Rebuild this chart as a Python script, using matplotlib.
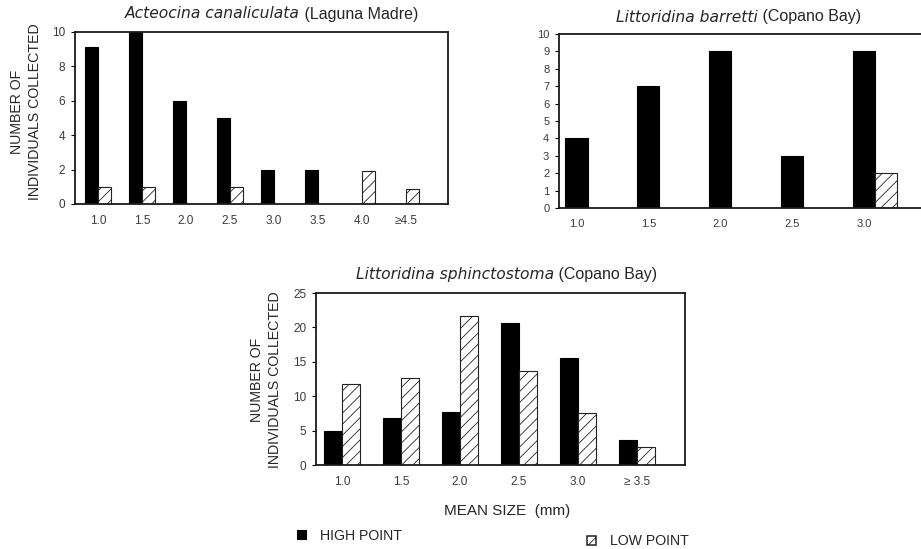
import numpy as np
import matplotlib
matplotlib.use("Agg")
import matplotlib.pyplot as plt
from matplotlib.patches import Rectangle

plt.rcParams['font.family'] = ['Liberation Sans', 'DejaVu Sans']
plt.rcParams['hatch.linewidth'] = 0.6

# ---- data ----
acteocina_sizes = ["1.0", "1.5", "2.0", "2.5", "3.0", "3.5", "4.0", "\u22654.5"]
acteocina_high = [9.1, 10, 6, 5, 2, 2, 0, 0]
acteocina_low = [1, 1, 0, 1, 0, 0, 1.9, 0.9]

barretti_sizes = ["1.0", "1.5", "2.0", "2.5", "3.0"]
barretti_high = [4, 7, 9, 3, 9]
barretti_low = [0, 0, 0, 0, 2]

sphinct_sizes = ["1.0", "1.5", "2.0", "2.5", "3.0", "\u2265 3.5"]
sphinct_high = [4.9, 6.8, 7.7, 20.6, 15.6, 3.6]
sphinct_low = [11.8, 12.7, 21.7, 13.7, 7.6, 2.6]

W, H = 921, 549
DPI = 100
TXT = "#262626"
fig = plt.figure(figsize=(W / DPI, H / DPI), dpi=DPI)


def px_axes(left, right, top, bottom):
    return fig.add_axes([left / W, 1 - bottom / H, (right - left) / W, (bottom - top) / H])


def draw_bars(ax, labels, high, low, width, xlim, ylim, yticks, tick_shift=0.0, tick_fs=8.5):
    x = np.arange(len(labels))
    ax.bar(x - width / 2, high, width, color="black", edgecolor="black", linewidth=0.8)
    lows = np.array(low, dtype=float)
    mask = lows > 0
    ax.bar(x[mask] + width / 2, lows[mask], width, color="white", edgecolor="#222222",
           linewidth=0.8, hatch="///")
    ax.set_xlim(*xlim)
    ax.set_ylim(*ylim)
    ax.set_xticks(x + tick_shift)
    ax.set_xticklabels(labels, fontsize=tick_fs, color="#3a3a3a")
    ax.set_yticks(yticks)
    ax.set_yticklabels([str(v) for v in yticks], fontsize=tick_fs, color="#3a3a3a")
    ax.tick_params(axis="x", length=0, pad=8)
    ax.tick_params(axis="y", direction="out", length=3, width=0.8, pad=4)
    for s in ax.spines.values():
        s.set_linewidth(1.3)
        s.set_color("#1a1a1a")


def split_title(x_split, y, italic, plain, fs=11.5):
    # species name in a wide oblique face, locality in upright text
    fig.text(x_split / W, 1 - y / H, italic, style="italic", family="DejaVu Sans",
             ha="right", va="center", fontsize=fs - 0.3, color=TXT)
    fig.text(x_split / W, 1 - y / H, " " + plain, ha="left", va="center",
             fontsize=fs, color=TXT)


def ylabel(x, y, fs=10.2):
    fig.text(x / W, 1 - y / H, "NUMBER OF\nINDIVIDUALS COLLECTED", rotation=90,
             ha="center", va="center", multialignment="center", fontsize=fs,
             color=TXT, linespacing=1.4)


# Acteocina canaliculata
ax1 = px_axes(75, 448, 32, 204)
draw_bars(ax1, acteocina_sizes, acteocina_high, acteocina_low, 0.3,
          (-0.52, 7.95), (0, 10), [0, 2, 4, 6, 8, 10])
split_title(300, 14, "Acteocina canaliculata", "(Laguna Madre)")
ylabel(26, 112)

# Littoridina barretti
ax2 = px_axes(559, 925, 34, 208)
draw_bars(ax2, barretti_sizes, barretti_high, barretti_low, 0.31,
          (-0.40, 4.70), (0, 10), list(range(11)), tick_shift=-0.15, tick_fs=8)
ax2.spines["right"].set_visible(False)
split_title(758, 17, "Littoridina barretti", "(Copano Bay)")

# Littoridina sphinctostoma
ax3 = px_axes(316, 685, 293, 465)
draw_bars(ax3, sphinct_sizes, sphinct_high, sphinct_low, 0.3,
          (-0.44, 5.81), (0, 25), [0, 5, 10, 15, 20, 25])
split_title(554, 275, "Littoridina sphinctostoma", "(Copano Bay)")
ylabel(266, 380)

fig.text(507 / W, 1 - 511 / H, "MEAN SIZE  (mm)", ha="center", va="center",
         fontsize=11, color=TXT)

# legend keys
fig.patches.append(Rectangle((297 / W, 1 - 539 / H), 9 / W, 9 / H, transform=fig.transFigure,
                             facecolor="black", edgecolor="black", linewidth=0.8))
fig.text(320 / W, 1 - 536 / H, "HIGH POINT", ha="left", va="center", fontsize=10.2, color=TXT)
fig.patches.append(Rectangle((587 / W, 1 - 545 / H), 9 / W, 9 / H, transform=fig.transFigure,
                             facecolor="white", edgecolor="#222222", linewidth=1.1,
                             hatch="/"))
fig.text(610 / W, 1 - 541 / H, "LOW POINT", ha="left", va="center", fontsize=10.2, color=TXT)

fig.savefig("out.png", dpi=DPI)
